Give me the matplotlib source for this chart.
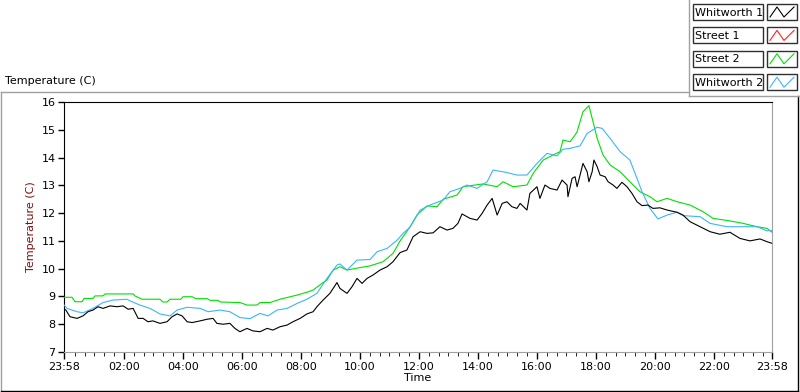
import numpy as np
import matplotlib
matplotlib.use("Agg")
from matplotlib import pyplot as plt

# time in hours after midnight (23:58 of previous day = -1/30), temperature in C
t_start = -1 / 30
t_end = 24 - 1 / 30

street2_t = [-0.03, 0.24, 0.34, 0.58, 0.65, 0.95, 1.02, 1.29, 1.36, 2.31, 2.37, 2.61, 3.22, 3.32,
             3.46, 3.56, 3.93, 4.00, 4.31, 4.44, 4.82, 4.92, 5.19, 5.26, 5.93, 6.17, 6.51, 6.61,
             6.95, 7.29, 7.87, 8.20, 8.41, 8.75, 8.88, 9.09, 9.32, 9.56, 9.90, 10.34, 10.78, 11.12,
             11.36, 11.70, 11.93, 12.27, 12.61, 12.82, 13.29, 13.49, 14.17, 14.65, 14.85, 15.19,
             15.66, 15.87, 16.21, 16.54, 16.78, 16.88, 17.12, 17.29, 17.36, 17.56, 17.76, 17.90,
             18.04, 18.24, 18.48, 18.82, 19.15, 19.49, 19.83, 20.07, 20.41, 20.75, 21.19, 21.63,
             21.97, 22.54, 22.99, 23.46, 23.80, 23.97]
street2_v = [8.97, 8.97, 8.81, 8.81, 8.93, 8.93, 9.02, 9.02, 9.09, 9.09, 9.02, 8.90, 8.90, 8.80,
             8.80, 8.90, 8.90, 8.99, 8.99, 8.92, 8.92, 8.86, 8.86, 8.80, 8.78, 8.69, 8.69, 8.78,
             8.78, 8.90, 9.05, 9.15, 9.23, 9.50, 9.59, 9.95, 10.07, 9.95, 10.02, 10.10, 10.25, 10.55,
             11.00, 11.51, 11.93, 12.26, 12.23, 12.50, 12.65, 12.95, 13.05, 12.95, 13.13, 12.95,
             13.01, 13.43, 13.91, 14.09, 14.21, 14.63, 14.57, 14.81, 14.93, 15.65, 15.87, 15.29,
             14.69, 14.09, 13.73, 13.49, 13.13, 12.77, 12.59, 12.41, 12.53, 12.41, 12.29, 12.05,
             11.81, 11.72, 11.63, 11.51, 11.45, 11.31]

whit2_t = [-0.03, 0.07, 0.41, 0.61, 0.95, 1.29, 1.63, 2.10, 2.20, 2.54, 2.88, 3.22, 3.56, 3.80,
           4.14, 4.58, 4.85, 5.26, 5.59, 5.93, 6.27, 6.61, 6.88, 7.19, 7.53, 7.87, 8.20, 8.54,
           8.88, 9.22, 9.32, 9.56, 9.90, 10.34, 10.58, 10.92, 11.26, 11.46, 11.70, 12.04, 12.37,
           12.82, 13.05, 13.39, 13.63, 13.97, 14.31, 14.51, 14.98, 15.32, 15.66, 16.00, 16.34,
           16.68, 16.88, 17.12, 17.46, 17.70, 18.04, 18.21, 18.48, 18.82, 19.15, 19.39, 19.56,
           19.83, 20.10, 20.41, 20.75, 20.95, 21.53, 21.87, 22.44, 23.12, 23.46, 23.80, 23.97]
whit2_v = [8.69, 8.57, 8.45, 8.41, 8.57, 8.78, 8.87, 8.90, 8.84, 8.69, 8.57, 8.37, 8.30, 8.51,
           8.61, 8.57, 8.45, 8.51, 8.45, 8.24, 8.20, 8.39, 8.30, 8.51, 8.57, 8.75, 8.90, 9.11,
           9.65, 10.13, 10.17, 9.95, 10.31, 10.33, 10.61, 10.73, 11.03, 11.27, 11.50, 12.11, 12.29,
           12.47, 12.77, 12.89, 13.01, 12.89, 13.13, 13.55, 13.46, 13.37, 13.37, 13.79, 14.15,
           14.06, 14.30, 14.33, 14.42, 14.87, 15.09, 15.05, 14.69, 14.21, 13.91, 13.25, 12.77,
           12.17, 11.79, 11.93, 12.03, 11.91, 11.87, 11.63, 11.51, 11.51, 11.51, 11.36, 11.38]

whit1_t = [-0.03, 0.03, 0.17, 0.41, 0.61, 0.78, 0.95, 1.12, 1.29, 1.53, 1.76, 1.97, 2.14, 2.31,
           2.48, 2.65, 2.81, 2.98, 3.22, 3.46, 3.63, 3.80, 3.97, 4.14, 4.31, 4.58, 4.82, 5.02,
           5.15, 5.36, 5.59, 5.76, 5.93, 6.17, 6.37, 6.61, 6.85, 7.05, 7.29, 7.53, 7.73, 7.97,
           8.20, 8.41, 8.54, 8.75, 8.98, 9.22, 9.32, 9.56, 9.73, 9.90, 10.07, 10.24, 10.44, 10.68,
           10.92, 11.12, 11.36, 11.59, 11.80, 12.04, 12.27, 12.48, 12.71, 12.95, 13.15, 13.32,
           13.46, 13.73, 13.97, 14.14, 14.31, 14.48, 14.65, 14.82, 14.98, 15.15, 15.32, 15.43,
           15.66, 15.76, 16.00, 16.10, 16.27, 16.44, 16.68, 16.85, 17.02, 17.05, 17.19, 17.29,
           17.36, 17.46, 17.56, 17.70, 17.76, 17.87, 17.93, 18.04, 18.14, 18.31, 18.41, 18.58,
           18.71, 18.88, 19.05, 19.22, 19.39, 19.56, 19.76, 19.93, 20.17, 20.41, 20.75, 20.95,
           21.19, 21.53, 21.87, 22.20, 22.54, 22.88, 23.22, 23.56, 23.80, 23.97]
whit1_v = [8.55, 8.51, 8.27, 8.21, 8.30, 8.45, 8.51, 8.63, 8.57, 8.66, 8.63, 8.66, 8.54, 8.57,
           8.21, 8.21, 8.09, 8.12, 8.03, 8.09, 8.27, 8.37, 8.30, 8.09, 8.06, 8.12, 8.18, 8.21,
           8.03, 8.00, 8.03, 7.85, 7.73, 7.85, 7.76, 7.73, 7.85, 7.79, 7.91, 7.97, 8.09, 8.21,
           8.37, 8.45, 8.63, 8.87, 9.11, 9.50, 9.29, 9.11, 9.35, 9.65, 9.47, 9.65, 9.77, 9.95,
           10.07, 10.25, 10.58, 10.67, 11.15, 11.33, 11.27, 11.29, 11.51, 11.39, 11.45, 11.63,
           11.97, 11.81, 11.75, 11.99, 12.29, 12.53, 11.93, 12.35, 12.41, 12.23, 12.17, 12.35,
           12.11, 12.71, 12.95, 12.53, 13.01, 12.89, 12.83, 13.19, 13.01, 12.59, 13.25, 13.31,
           12.95, 13.37, 13.79, 13.49, 13.13, 13.49, 13.91, 13.67, 13.37, 13.31, 13.13, 13.01,
           12.89, 13.11, 12.95, 12.71, 12.41, 12.27, 12.29, 12.17, 12.19, 12.11, 12.03, 11.93,
           11.69, 11.51, 11.33, 11.24, 11.31, 11.09, 11.00, 11.07, 10.97, 10.91]

# Street 1 has no visible trace on the chart
street1_t = []
street1_v = []

names = ["Whitworth 1", "Street 1", "Street 2", "Whitworth 2"]
colors = ["#000000", "#ff2020", "#00e000", "#3cb4ff"]

xtick_pos = [t_start, 2, 4, 6, 8, 10, 12, 14, 16, 18, 20, 22, t_end]
xtick_lab = ["23:58", "02:00", "04:00", "06:00", "08:00", "10:00", "12:00",
             "14:00", "16:00", "18:00", "20:00", "22:00", "23:58"]

plt.rcParams['font.family'] = ['DejaVu Sans']
W, H = 800, 392
fig = plt.figure(figsize=(W / 100, H / 100), dpi=100)
fig.patch.set_facecolor("white")

ax = fig.add_axes([64 / W, (H - 352) / H, 708 / W, 250 / H])
ax.plot(whit1_t, whit1_v, color=colors[0], lw=0.8, zorder=5)
ax.plot(street1_t, street1_v, color=colors[1], lw=0.8)
ax.plot(street2_t, street2_v, color=colors[2], lw=0.8, zorder=3)
ax.plot(whit2_t, whit2_v, color=colors[3], lw=0.8, zorder=4)

ax.set_xlim(t_start, t_end)
ax.set_ylim(7, 16)
ax.set_yticks(range(7, 17))
ax.set_xticks(xtick_pos)
ax.set_xticklabels(xtick_lab)
minors = [m / 3 for m in range(0, 72) if m % 6 != 0]
ax.set_xticks(minors, minor=True)
ax.tick_params(axis='both', labelsize=8, color='black', width=1, direction='out')
ax.tick_params(axis='x', which='major', length=5, pad=2)
ax.tick_params(axis='x', which='minor', length=3)
ax.tick_params(axis='y', length=4, pad=2)
for s in ['left', 'top']:
    ax.spines[s].set_color('black')
for s in ['right', 'bottom']:
    ax.spines[s].set_color('#a0a0a0')
ax.set_xlabel("Time", fontsize=8, labelpad=1)
ax.set_ylabel("Temperature (C)", fontsize=8, color='#7a1010', labelpad=4)

# chrome: frames, title, legend
ov = fig.add_axes([0, 0, 1, 1], zorder=10)
ov.set_xlim(0, W)
ov.set_ylim(H, 0)
ov.axis('off')
ov.patch.set_alpha(0)
ov.plot([1, 689], [92, 92], color='#a0a0a0', lw=1)
ov.plot([1, 1], [92, 390], color='#a0a0a0', lw=1)
ov.plot([1, 798], [390.5, 390.5], color='black', lw=1)
ov.plot([798, 798], [96, 390.5], color='black', lw=1)
ov.plot([689, 689], [0, 96], color='#a0a0a0', lw=1)
ov.plot([689, 800], [96, 96], color='#a0a0a0', lw=1)
ov.text(5, 81, "Temperature (C)", fontsize=8, va='center', ha='left')

for i, (nm, c) in enumerate(zip(names, colors)):
    top = 4 + i * 23.4
    ov.add_patch(plt.Rectangle((693, top), 70, 16, fill=True, facecolor='white',
                               edgecolor='#303030', lw=1))
    ov.text(695, top + 8.5, nm, fontsize=8, va='center', ha='left')
    ov.add_patch(plt.Rectangle((767, top), 30, 16, fill=True, facecolor='white',
                               edgecolor='#303030', lw=1))
    ov.plot([770, 777, 784, 794], [top + 13, top + 3, top + 13, top + 3], color=c, lw=0.8)

fig.savefig("out.png", dpi=100)
